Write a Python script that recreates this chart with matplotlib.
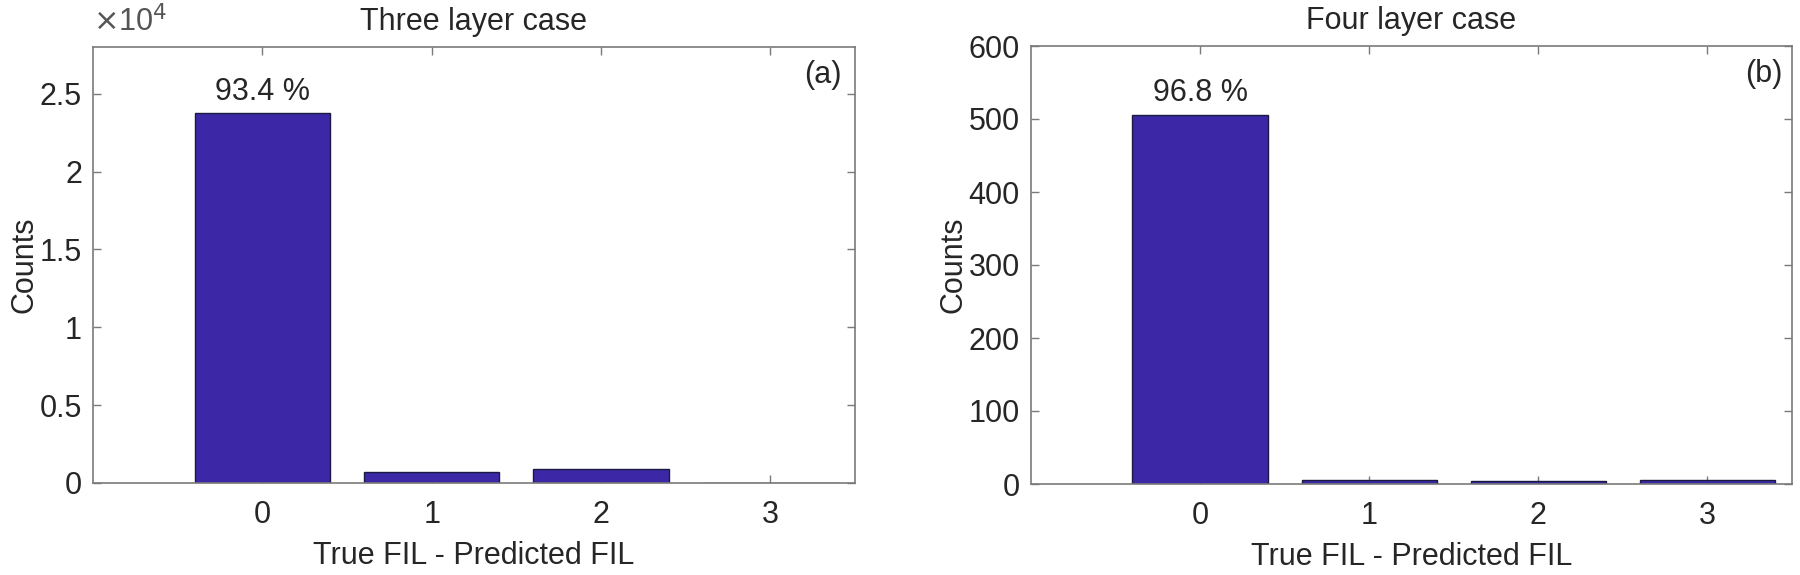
import matplotlib
matplotlib.use("Agg")
import matplotlib.pyplot as plt
from matplotlib.ticker import FuncFormatter

plt.rcParams['font.family'] = ['Liberation Sans', 'DejaVu Sans']

categories = [0, 1, 2, 3]
three_counts = [23740, 680, 920, 30]
four_counts = [506, 6, 4, 6]
three_pct = "93.4 %"
four_pct = "96.8 %"
titles = ["Three layer case", "Four layer case"]
panel_tags = ["(a)", "(b)"]
xlabel = "True FIL - Predicted FIL"
ylabel = "Counts"

bar_color = "#3C28A6"
text_color = "#262626"
spine_color = "#7a7a7a"
fs = 22

fig = plt.figure(figsize=(18, 5.75), dpi=100)
W, H = 1800, 575
ax1 = fig.add_axes([93/W, 1-483/H, (855-93)/W, (483-47)/H])
ax2 = fig.add_axes([1031/W, 1-484/H, (1792-1031)/W, (484-46)/H])

def style(ax):
    for s in ax.spines.values():
        s.set_color(spine_color)
        s.set_linewidth(1.2)
    ax.tick_params(direction='in', length=6, width=1, colors=spine_color,
                   labelcolor=text_color, labelsize=fs, top=True, right=True)
    ax.tick_params(axis='x', pad=12)
    ax.tick_params(axis='y', pad=8)
    ax.set_xlim(-1, 3.5)
    ax.set_xticks(categories)
    ax.set_xlabel(xlabel, fontsize=fs, color=text_color, labelpad=8)
    ax.set_ylabel(ylabel, fontsize=fs, color=text_color, labelpad=0)

# Left panel
ax1.bar(categories, three_counts, width=0.8, color=bar_color, edgecolor="#1a1a40", linewidth=1, zorder=2)
ax1.set_ylim(0, 28000)
ax1.set_yticks([0, 5000, 10000, 15000, 20000, 25000])
ax1.yaxis.set_major_formatter(FuncFormatter(lambda v, p: f"{v/1e4:g}"))
style(ax1)
ax1.set_title(titles[0], fontsize=fs, color=text_color, pad=12)
ax1.text(0, three_counts[0] + 400, three_pct, ha='center', va='bottom', fontsize=fs, color=text_color)
ax1.text(0.982, 0.936, panel_tags[0], transform=ax1.transAxes, ha='right', va='center', fontsize=fs, color=text_color)
ax1.text(0.0, 1.02, r"$\times$10$^4$", transform=ax1.transAxes, ha='left', va='bottom', fontsize=fs, color="#555555")

# Right panel
ax2.bar(categories, four_counts, width=0.8, color=bar_color, edgecolor="#1a1a40", linewidth=1, zorder=2)
ax2.set_ylim(0, 600)
ax2.set_yticks([0, 100, 200, 300, 400, 500, 600])
style(ax2)
ax2.set_title(titles[1], fontsize=fs, color=text_color, pad=12)
ax2.text(0, four_counts[0] + 9, four_pct, ha='center', va='bottom', fontsize=fs, color=text_color)
ax2.text(0.987, 0.935, panel_tags[1], transform=ax2.transAxes, ha='right', va='center', fontsize=fs, color=text_color)

fig.savefig("out.png", dpi=100, facecolor='white')
